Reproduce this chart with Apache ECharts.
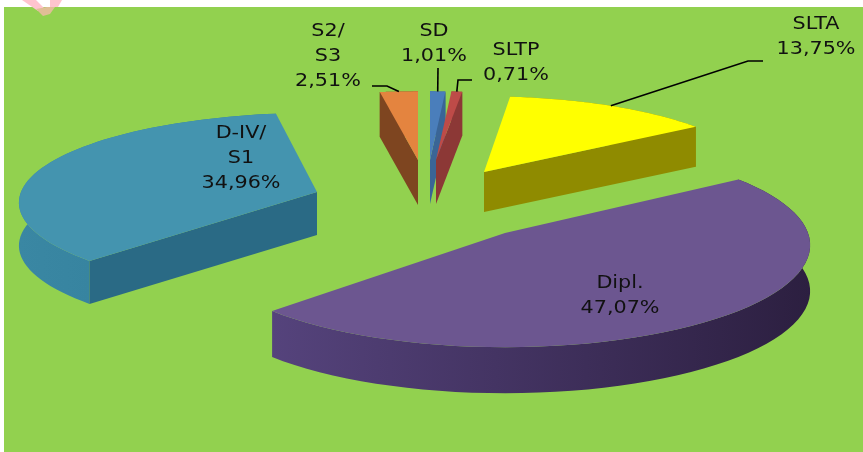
<!DOCTYPE html>
<html>
<head>
<meta charset="utf-8">
<style>
  html, body { margin: 0; padding: 0; background: #fff; }
  #main { width: 863px; height: 452px; }
</style>
<script src="https://cdn.jsdelivr.net/npm/echarts@6/dist/echarts.min.js"></script>
</head>
<body>
<div id="main"></div>
<script>
// chart data
const categories = ['SD', 'SLTP', 'SLTA', 'Dipl.', 'D-IV/\nS1', 'S2/\nS3'];
const values = [1.01, 0.71, 13.75, 47.07, 34.96, 2.51];

// colours: top face, cut wall, rim stops
const topColors = ['#4A7EBB', '#BE4B48', '#FFFF00', '#6C5690', '#4494AF', '#E4843F'];
const cutColors = ['#3A6596', '#8C3836', '#8F8B00', '#3F2E5C', '#2A6A85', '#7E4520'];
const rimColors = [
  ['#3A6596', '#3A6596'],
  ['#8C3836', '#8C3836'],
  ['#8F8B00', '#8F8B00'],
  ['#55437C', '#2C1F40'],
  ['#3A87A3', '#2F7C98'],
  ['#7E4520', '#7E4520']
];

// exploded slice geometry, px
const origins = [[430, 160], [436, 160], [484, 172], [505, 233], [317, 192], [418, 160]];
const radiusX = [276, 276, 275, 303, 296, 276];
const radiusY = [78, 78, 86, 102, 90, 78];
const depths = [44, 44, 40, 46, 43, 45];
const perspective = 0.12;

// label placement
const labelPos = [[434, 43.5], [516, 62.5], [816, 36.5], [620, 295.5], [241, 158.5], [328, 56]];
const leaderBends = [
  [[438, 68]],
  [[458, 80], [472, 80]],
  [[748, 61], [763, 61]],
  null,
  null,
  [[387, 86], [372, 86]]
];

const total = values.reduce((a, b) => a + b, 0);
const startAngles = [];
values.reduce((acc, v, i) => {
  startAngles[i] = acc;
  return acc + v;
}, 0);

// point on the rim of slice i, angle clockwise from the top
function rimPoint(i, rad) {
  const s = 1 - perspective * Math.cos(rad);
  return [
    origins[i][0] + radiusX[i] * Math.sin(rad) * s,
    origins[i][1] - radiusY[i] * Math.cos(rad) * s
  ];
}

function lowered(pt, d) {
  return [pt[0], pt[1] + d];
}

function poly(points, fill) {
  return { type: 'polygon', shape: { points: points }, style: { fill: fill, stroke: null } };
}

function renderSlice(params, api) {
  const i = params.dataIndex;
  const a0 = (startAngles[i] / total) * Math.PI * 2;
  const a1 = a0 + (api.value(0) / total) * Math.PI * 2;
  const d = depths[i];
  const o = origins[i];

  const arc = [];
  const steps = 60;
  for (let k = 0; k <= steps; k++) {
    arc.push(rimPoint(i, a0 + ((a1 - a0) * k) / steps));
  }
  const arcLow = arc.map((p) => lowered(p, d)).reverse();
  const first = arc[0];
  const last = arc[steps];

  const children = [];
  children.push(poly(arc.concat(arcLow), {
    type: 'linear', x: 0, y: 0, x2: 1, y2: 0,
    colorStops: [
      { offset: 0, color: rimColors[i][0] },
      { offset: 1, color: rimColors[i][1] }
    ]
  }));
  // only the cut walls that face the viewer
  if (Math.cos(a0 - Math.PI / 2) < 0) {
    children.push(poly([o, first, lowered(first, d), lowered(o, d)], cutColors[i]));
  }
  if (Math.cos(a1 + Math.PI / 2) < 0) {
    children.push(poly([o, last, lowered(last, d), lowered(o, d)], cutColors[i]));
  }
  children.push(poly([o].concat(arc), topColors[i]));

  return { type: 'group', children: children };
}

function renderLabel(params, api) {
  const i = params.dataIndex;
  const a0 = (startAngles[i] / total) * Math.PI * 2;
  const mid = a0 + ((api.value(0) / total) * Math.PI);
  const children = [];
  if (leaderBends[i]) {
    children.push({
      type: 'polyline',
      shape: { points: [rimPoint(i, mid)].concat(leaderBends[i]) },
      style: { stroke: '#000', lineWidth: 1.6, fill: null }
    });
  }
  children.push({
    type: 'text',
    x: labelPos[i][0],
    y: labelPos[i][1],
    scaleX: 1.15,
    style: {
      text: categories[i] + '\n' + String(values[i].toFixed(2)).replace('.', ',') + '%',
      font: '18px "DejaVu Sans"',
      fill: '#111',
      align: 'center',
      verticalAlign: 'middle',
      lineHeight: 25
    }
  });
  return { type: 'group', children: children };
}

const chart = echarts.init(document.getElementById('main'), null, { renderer: 'canvas' });
chart.setOption({
  animation: false,
  backgroundColor: '#fff',
  graphic: [
    { type: 'rect', z: -10, shape: { x: 4, y: 7, width: 859, height: 445 }, style: { fill: '#92D14F' } },
    // scrap of the logo cut off at the top of the scan
    { type: 'polygon', z: -5, shape: { points: [[22, 0], [36, 0], [44, 8], [38, 11]] }, style: { fill: '#FFC4CE' } },
    { type: 'polygon', z: -5, shape: { points: [[50, 0], [62, 0], [58, 7], [50, 7]] }, style: { fill: '#FFC4CE' } },
    { type: 'polygon', z: -5, shape: { points: [[36, 9], [47, 7], [55, 7], [50, 14], [43, 16]] }, style: { fill: '#E0BE96' } }
  ],
  series: [
    {
      type: 'custom',
      coordinateSystem: 'none',
      silent: true,
      z: 2,
      renderItem: renderSlice,
      data: values
    },
    {
      type: 'custom',
      coordinateSystem: 'none',
      silent: true,
      z: 3,
      renderItem: renderLabel,
      data: values
    }
  ]
});
</script>
</body>
</html>
